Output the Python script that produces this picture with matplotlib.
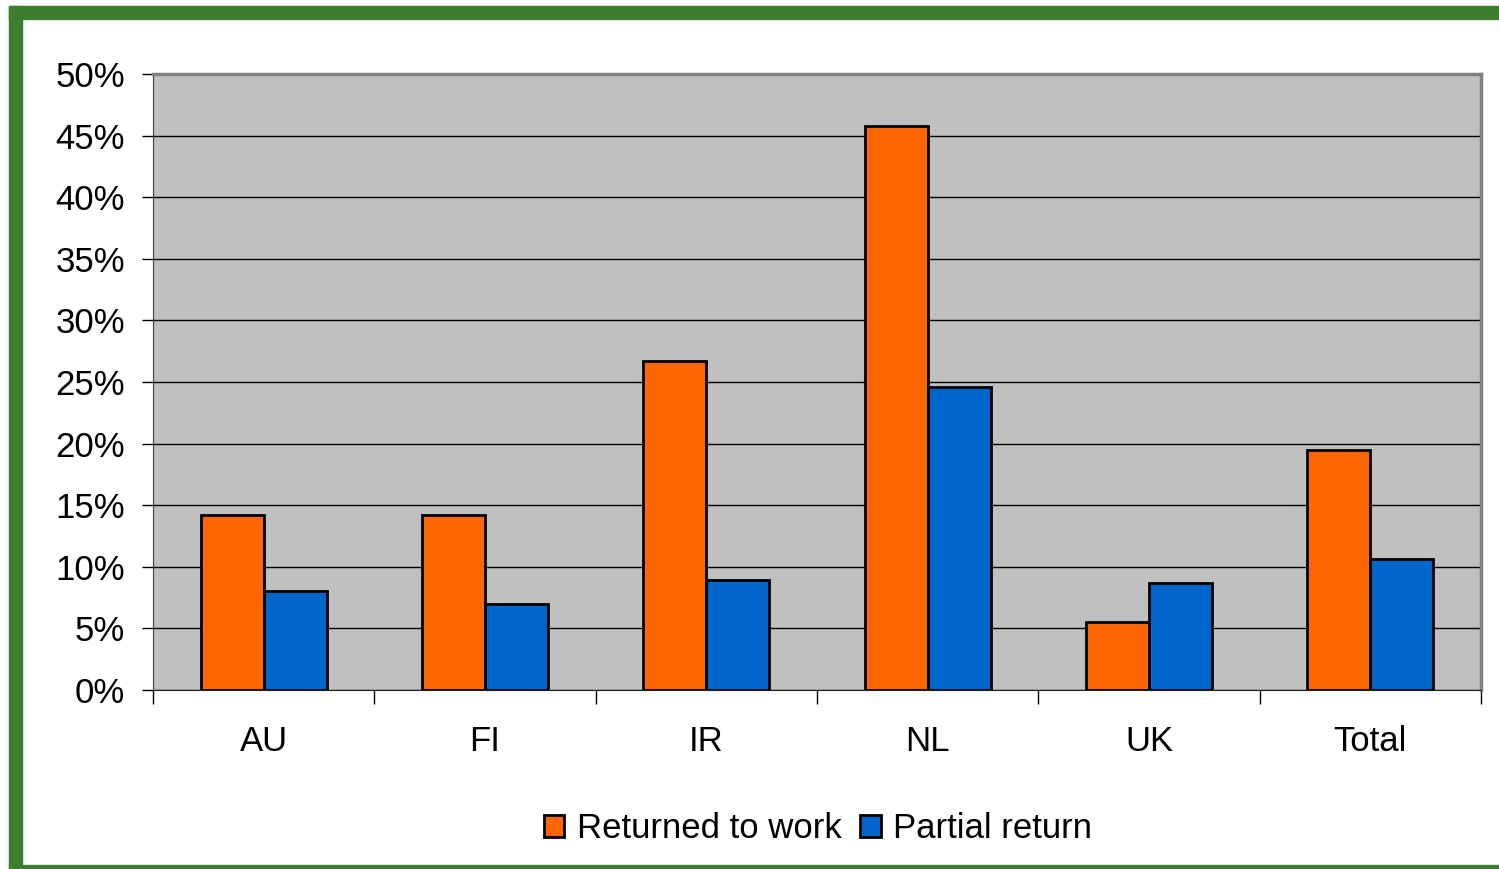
import matplotlib.pyplot as plt
import matplotlib.patches as mpatches
import numpy as np

plt.rcParams['font.family'] = ['Liberation Sans', 'DejaVu Sans']

countries = ['AU', 'FI', 'IR', 'NL', 'UK', 'Total']
returned = [14.2, 14.2, 26.7, 45.8, 5.5, 19.5]
partial = [8.0, 7.0, 8.9, 24.6, 8.7, 10.6]
yticks = [0, 5, 10, 15, 20, 25, 30, 35, 40, 45, 50]

orange = '#FF6600'
blue = '#0066CC'
green = '#3B7F2F'

W, H = 1499, 869
fig = plt.figure(figsize=(W / 100, H / 100), dpi=100)

# green frame (top, left, bottom)
fig.patches.append(mpatches.Rectangle((9 / W, 1 - 19 / H), 1 - 9 / W, 13 / H,
                                      transform=fig.transFigure, color=green))
fig.patches.append(mpatches.Rectangle((9 / W, 0), 13 / W, 1 - 6 / H,
                                      transform=fig.transFigure, color=green))
fig.patches.append(mpatches.Rectangle((9 / W, 0), 1 - 9 / W, 4 / H,
                                      transform=fig.transFigure, color=green))

ax = fig.add_axes([153 / W, 1 - 690 / H, (1481 - 153) / W, (690 - 74) / H])
ax.set_facecolor('#C0C0C0')

x = np.arange(len(countries))
w = 0.285
ax.bar(x - w / 2, returned, w, color=orange, edgecolor='black', linewidth=2,
       label='Returned to work', zorder=3)
ax.bar(x + w / 2, partial, w, color=blue, edgecolor='black', linewidth=2,
       label='Partial return', zorder=3)

ax.set_xlim(-0.5, len(countries) - 0.5)
ax.set_ylim(0, 50)
ax.set_yticks(yticks)
ax.set_yticklabels([f'{v}%' for v in yticks])
ax.yaxis.grid(True, color='black', linewidth=1, zorder=1)
ax.set_axisbelow(True)

# category labels centred, ticks at the boundaries
ax.set_xticks(np.arange(-0.5, len(countries), 1.0))
ax.set_xticklabels([])
ax.set_xticks(x, minor=True)
ax.set_xticklabels(countries, minor=True)
ax.tick_params(axis='x', which='major', length=10, width=1, color='black')
ax.tick_params(axis='x', which='minor', length=0, pad=25, labelsize=25)
ax.tick_params(axis='y', length=8, width=1, color='black', pad=12, labelsize=25)

for side in ['top', 'right']:
    ax.spines[side].set_color('#808080')
    ax.spines[side].set_linewidth(2.5)
ax.spines['left'].set_color('#404040')
ax.spines['bottom'].set_color('#202020')

fig.legend(loc='center', bbox_to_anchor=(818 / W, 1 - 829 / H), ncol=2,
           frameon=False, fontsize=25, handlelength=0.6, handleheight=0.6,
           handletextpad=0.35, columnspacing=0.55)

fig.savefig('out.png', dpi=100)
